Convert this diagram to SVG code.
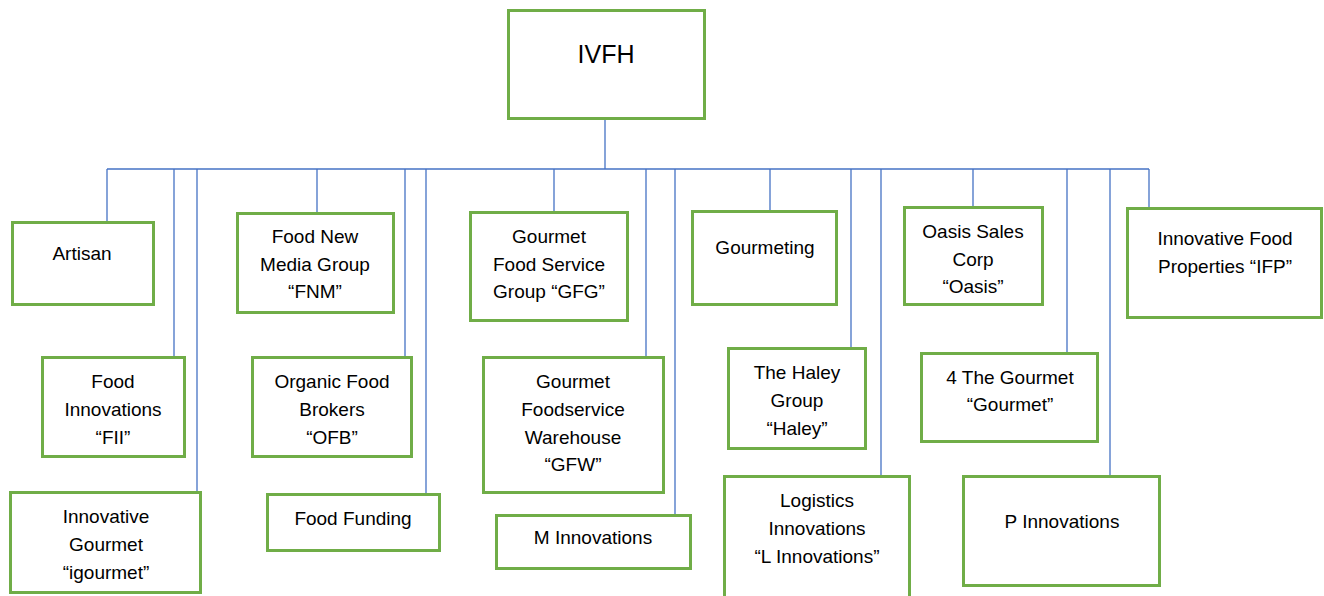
<svg xmlns="http://www.w3.org/2000/svg" width="1324" height="596" viewBox="0 0 1324 596">
  <style>
    .box { fill: #ffffff; stroke: #70AD47; stroke-width: 3; }
    .link { fill: none; stroke: #4472C4; stroke-width: 1.3; }
    .lbl { font-family: "Liberation Sans", Arial, sans-serif; font-size: 19px; fill: #000000; text-anchor: middle; }
    .top { font-size: 25px; }
  </style>
  <rect width="1324" height="596" fill="#ffffff"/>

  <!-- connectors: trunk, bus and drops -->
  <g id="connectors" class="link">
    <path d="M605 120V169"/>
    <path d="M107 169H1149"/>
    <path d="M107 169V221"/>
    <path d="M174 169V356"/>
    <path d="M197 169V491"/>
    <path d="M317 169V212"/>
    <path d="M405 169V356"/>
    <path d="M426 169V493"/>
    <path d="M554 169V211"/>
    <path d="M646 169V356"/>
    <path d="M675 169V514"/>
    <path d="M770 169V210"/>
    <path d="M851 169V347"/>
    <path d="M881 169V475"/>
    <path d="M973 169V206"/>
    <path d="M1067 169V352"/>
    <path d="M1110 169V475"/>
    <path d="M1149 169V207"/>
  </g>

  <g id="ivfh">
    <rect class="box" x="508.5" y="10.5" width="196" height="108"/>
    <text class="lbl top" x="606" y="63">IVFH</text>
  </g>

  <g id="artisan">
    <rect class="box" x="12.5" y="222.5" width="141" height="82"/>
    <text class="lbl" x="82" y="260">Artisan</text>
  </g>

  <g id="fii">
    <rect class="box" x="42.5" y="357.5" width="142" height="99"/>
    <text class="lbl" x="113" y="388">Food</text>
    <text class="lbl" x="113" y="416">Innovations</text>
    <text class="lbl" x="113" y="444">“FII”</text>
  </g>

  <g id="igourmet">
    <rect class="box" x="10.5" y="492.5" width="190" height="100"/>
    <text class="lbl" x="106" y="523">Innovative</text>
    <text class="lbl" x="106" y="551">Gourmet</text>
    <text class="lbl" x="106" y="579">“igourmet”</text>
  </g>

  <g id="fnm">
    <rect class="box" x="237.5" y="213.5" width="156" height="99"/>
    <text class="lbl" x="315" y="243">Food New</text>
    <text class="lbl" x="315" y="271">Media Group</text>
    <text class="lbl" x="315" y="298">“FNM”</text>
  </g>

  <g id="ofb">
    <rect class="box" x="252.5" y="357.5" width="159" height="99"/>
    <text class="lbl" x="332" y="388">Organic Food</text>
    <text class="lbl" x="332" y="416">Brokers</text>
    <text class="lbl" x="332" y="444">“OFB”</text>
  </g>

  <g id="food-funding">
    <rect class="box" x="267.5" y="494.5" width="172" height="56"/>
    <text class="lbl" x="353" y="525">Food Funding</text>
  </g>

  <g id="gfg">
    <rect class="box" x="470.5" y="212.5" width="157" height="108"/>
    <text class="lbl" x="549" y="243">Gourmet</text>
    <text class="lbl" x="549" y="271">Food Service</text>
    <text class="lbl" x="549" y="298">Group “GFG”</text>
  </g>

  <g id="gfw">
    <rect class="box" x="483.5" y="357.5" width="180" height="135"/>
    <text class="lbl" x="573" y="388">Gourmet</text>
    <text class="lbl" x="573" y="416">Foodservice</text>
    <text class="lbl" x="573" y="444">Warehouse</text>
    <text class="lbl" x="573" y="471">“GFW”</text>
  </g>

  <g id="m-innovations">
    <rect class="box" x="496.5" y="515.5" width="194" height="53"/>
    <text class="lbl" x="593" y="544">M Innovations</text>
  </g>

  <g id="gourmeting">
    <rect class="box" x="692.5" y="211.5" width="144" height="93"/>
    <text class="lbl" x="765" y="254">Gourmeting</text>
  </g>

  <g id="haley">
    <rect class="box" x="728.5" y="348.5" width="137" height="100"/>
    <text class="lbl" x="797" y="379">The Haley</text>
    <text class="lbl" x="797" y="407">Group</text>
    <text class="lbl" x="797" y="435">“Haley”</text>
  </g>

  <g id="logistics">
    <rect class="box" x="724.5" y="476.5" width="185" height="130"/>
    <text class="lbl" x="817" y="507">Logistics</text>
    <text class="lbl" x="817" y="535">Innovations</text>
    <text class="lbl" x="817" y="563">“L Innovations”</text>
  </g>

  <g id="oasis">
    <rect class="box" x="904.5" y="207.5" width="138" height="97"/>
    <text class="lbl" x="973" y="238">Oasis Sales</text>
    <text class="lbl" x="973" y="266">Corp</text>
    <text class="lbl" x="973" y="293">“Oasis”</text>
  </g>

  <g id="four-the-gourmet">
    <rect class="box" x="921.5" y="353.5" width="176" height="88"/>
    <text class="lbl" x="1010" y="384">4 The Gourmet</text>
    <text class="lbl" x="1010" y="411">“Gourmet”</text>
  </g>

  <g id="p-innovations">
    <rect class="box" x="963.5" y="476.5" width="196" height="109"/>
    <text class="lbl" x="1062" y="528">P Innovations</text>
  </g>

  <g id="ifp">
    <rect class="box" x="1127.5" y="208.5" width="194" height="109"/>
    <text class="lbl" x="1225" y="245">Innovative Food</text>
    <text class="lbl" x="1225" y="273">Properties “IFP”</text>
  </g>
</svg>
